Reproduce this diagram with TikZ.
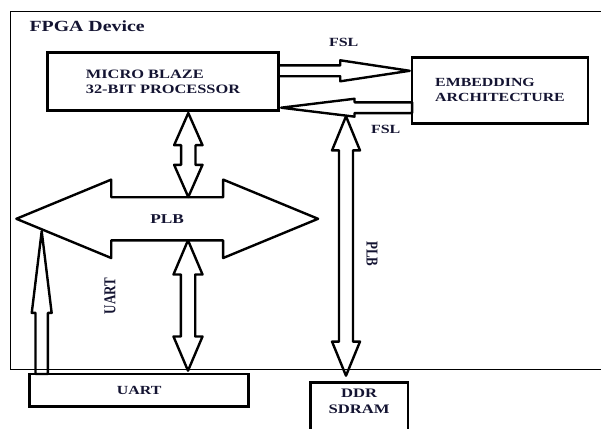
\documentclass[tikz,border=0pt]{standalone}
\usepackage{fontspec}
\usepackage{graphicx}
\setmainfont{Liberation Serif}[FakeStretch=1.28]
\newfontfamily\vlabelfont{Liberation Serif}
\usetikzlibrary{shapes.arrows, positioning, calc}
\definecolor{labeltext}{RGB}{20,20,50}

\begin{document}
\begin{tikzpicture}[
        x=1pt, y=-1pt,
        text=labeltext,
        device/.style={
            draw=black,
            line width=0.9pt,
            minimum width=610pt,
            minimum height=358pt,
            inner sep=0pt,
            outer sep=0pt
        },
        block/.style={
            draw=black,
            line width=2.7pt,
            inner sep=0pt,
            outer sep=0pt,
            font=\fontsize{12.8}{15}\selectfont\bfseries
        },
        dblarrow/.style={
            double arrow,
            draw=black,
            line width=2.4pt,
            line join=round,
            inner xsep=0pt,
            outer sep=0pt
        },
        sglarrow/.style={
            single arrow,
            draw=black,
            line width=2.4pt,
            line join=round,
            inner xsep=0pt,
            outer sep=0pt
        },
        lbl/.style={font=\fontsize{12.5}{15}\selectfont\bfseries, inner sep=0pt},
        vlbl/.style={font=\vlabelfont\fontsize{13}{15}\selectfont\bfseries, inner sep=0pt}
    ]
    \useasboundingbox (0,0) rectangle (601,428);

    % FPGA device
    \node[device, anchor=north west] (fpga) at (10,11) {};
    \node[anchor=base west, font=\fontsize{15.5}{18}\selectfont\bfseries] (fpgalabel) at (26,31.5) {FPGA Device};

    % Blocks
    \node[block, minimum width=231.4pt, minimum height=57.4pt, align=left] (mb) at (163,81.5) {MICRO BLAZE\\32-BIT PROCESSOR};
    \node[block, minimum width=175.8pt, minimum height=66.2pt, align=left, font=\fontsize{12.4}{15}\selectfont\bfseries] (emb) at (500,90.4) {EMBEDDING\\ARCHITECTURE};
    \node[block, minimum width=219pt, minimum height=32.3pt, font=\fontsize{12.4}{15}\selectfont\bfseries] (uart) at (139.2,390.2) {UART};
    \node[block, minimum width=97.7pt, anchor=north, inner ysep=6.7pt, text depth=40pt, align=center, font=\fontsize{13}{16}\selectfont\bfseries] (ddr) at (359.2,382.3) {DDR\\SDRAM};

    % PLB bus
    \node[dblarrow, minimum height=301.7pt, minimum width=76pt, double arrow head extend=17.6pt,
          double arrow tip angle=44.9, inner ysep=15.9pt, text height=9pt, text depth=0pt,
          font=\fontsize{13.5}{15}\selectfont\bfseries] (plb) at (167.2,218.8) {PLB};

    % Bus links
    \node[dblarrow, rotate=90, minimum height=84pt, minimum width=26pt, double arrow head extend=7pt,
          double arrow tip angle=47.6, inner ysep=6pt] (mbplb) at (188.3,155) {};
    \node[dblarrow, rotate=90, minimum height=130.4pt, minimum width=26.6pt, double arrow head extend=7.3pt,
          double arrow tip angle=46, inner ysep=6pt] (plbuart) at (188,305.5) {};
    \node[dblarrow, rotate=90, minimum height=259.4pt, minimum width=25.6pt, double arrow head extend=7pt,
          double arrow tip angle=44.6, inner ysep=5.8pt] (ddrbus) at (346,246) {};

    % FSL links
    \node[sglarrow, anchor=tail, minimum height=131pt, minimum width=18.6pt, single arrow head extend=5.1pt,
          single arrow tip angle=17.2, inner ysep=4.2pt] (fslout) at (mb.east |- 0,70.8) {};
    \node[sglarrow, rotate=180, anchor=tail, minimum height=131pt, minimum width=15.5pt, single arrow head extend=3.55pt,
          single arrow tip angle=13.9, inner ysep=4.2pt] (fslin) at (emb.west |- 0,107.7) {};

    % UART link
    \node[sglarrow, rotate=90, anchor=tail, minimum height=142.75pt, minimum width=17.5pt, single arrow head extend=3.75pt,
          single arrow tip angle=13.9, inner ysep=5pt] (uartlink) at (41.7,374) {};

    % Labels
    \node[lbl] (fsltop) at (343.7,42.5) {FSL};
    \node[lbl] (fslbot) at (385.7,129) {FSL};
    \node[vlbl, rotate=-90] (plbv) at (372,254) {\scalebox{1}[1.28]{PLB}};
    \node[vlbl, rotate=90] (uartv) at (110,296) {\scalebox{1}[1.28]{UART}};

\end{tikzpicture}
\end{document}
